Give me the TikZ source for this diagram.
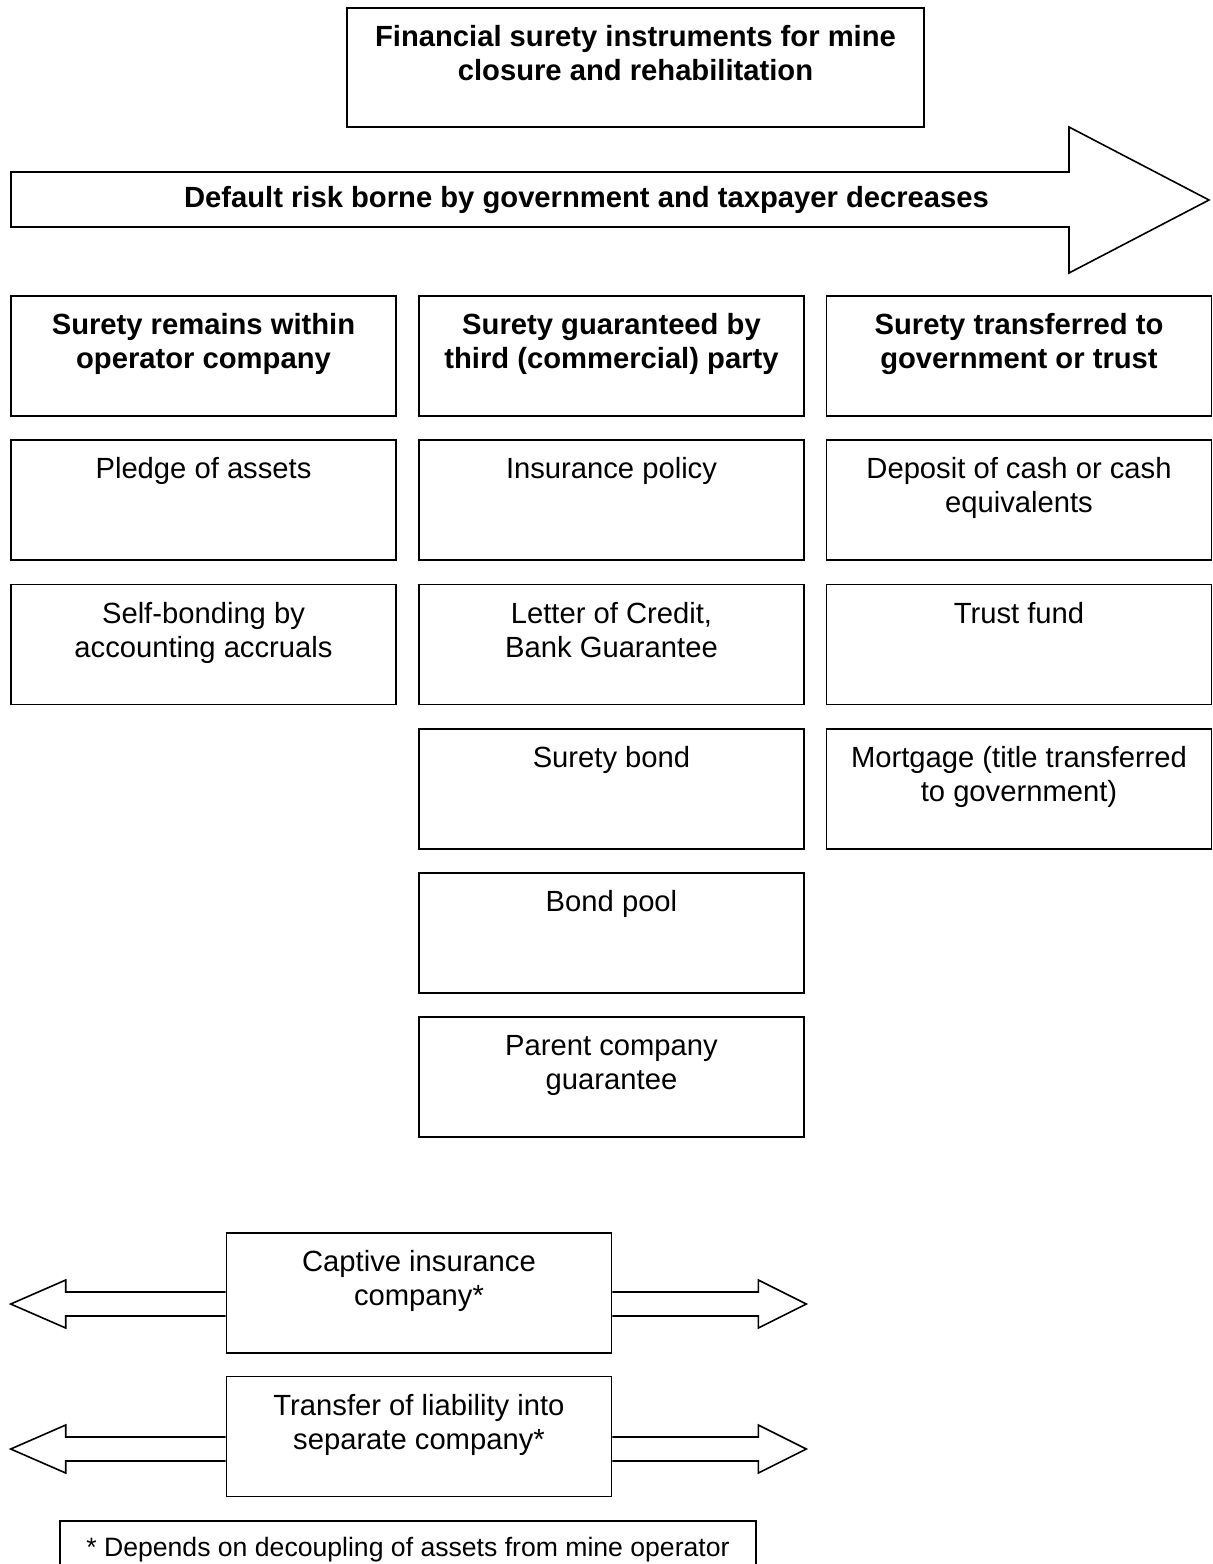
\documentclass[tikz,border=0pt]{standalone}
\usepackage{fontspec}
\setmainfont{Liberation Sans}
\newcommand{\celltxt}[3]{\parbox[c][#2][t]{#1}{\centering\rule{0pt}{19.25pt}#3}}
\newcommand{\colbox}[1]{\celltxt{192.5pt}{60pt}{#1}}
\begin{document}
\begin{tikzpicture}[x=.5pt, y=-.5pt, line width=.8pt, font=\fontsize{14.6}{17}\selectfont,
  cell/.style={draw, inner sep=0pt}]
\useasboundingbox (0,0) rectangle (1212,1564);
\node[cell] (title) at (635.5,67.5) {\celltxt{288.5pt}{59.5pt}{\bfseries Financial surety instruments for mine\\closure and rehabilitation}};
\draw (11,172)--(1069,172)--(1069,127)--(1209,200)--(1069,273)--(1069,227)--(11,227)--cycle;
\node[anchor=base, font=\fontsize{14.6}{17}\selectfont\bfseries] (risk) at (586.5,207) {Default risk borne by government and taxpayer decreases};
\node[cell] (hdrA) at (203.5,356) {\colbox{\bfseries Surety remains within\\operator company}};
\node[cell] (hdrB) at (611.5,356) {\colbox{\bfseries Surety guaranteed by\\third (commercial) party}};
\node[cell] (hdrC) at (1019,356) {\colbox{\bfseries Surety transferred to\\government or trust}};
\node[cell] (pledge) at (203.5,500) {\colbox{Pledge of assets}};
\node[cell] (selfbond) at (203.5,644.5) {\colbox{Self-bonding by\\accounting accruals}};
\node[cell] (insur) at (611.5,500) {\colbox{Insurance policy}};
\node[cell] (credit) at (611.5,644.5) {\colbox{Letter of Credit,\\Bank Guarantee}};
\node[cell] (bond) at (611.5,789) {\colbox{Surety bond}};
\node[cell] (pool) at (611.5,933) {\colbox{Bond pool}};
\node[cell] (parent) at (611.5,1077) {\colbox{Parent company\\guarantee}};
\node[cell] (deposit) at (1019,500) {\colbox{Deposit of cash or cash\\equivalents}};
\node[cell] (trust) at (1019,644.5) {\colbox{Trust fund}};
\node[cell] (mortgage) at (1019,789) {\colbox{Mortgage (title transferred\\to government)}};
\node[cell] (captive) at (419,1293) {\colbox{Captive insurance\\company*}};
\node[cell] (transfer) at (419,1436.5) {\colbox{Transfer of liability into\\separate company*}};
\draw (captive.west) ++(0,-1)--++(-160,0)--++(0,-12)--++(-55,24)--++(55,24)--++(0,-12)--++(160,0);
\draw (captive.east) ++(0,-1)--++(146,0)--++(0,-12)--++(48,24)--++(-48,24)--++(0,-12)--++(-146,0);
\draw (transfer.west) ++(0,.5)--++(-160,0)--++(0,-12)--++(-55,24)--++(55,24)--++(0,-12)--++(160,0);
\draw (transfer.east) ++(0,.5)--++(146,0)--++(0,-12)--++(48,24)--++(-48,24)--++(0,-12)--++(-146,0);
\node[cell, font=\fontsize{13.3}{15.5}\selectfont] (note) at (408,1581) {\parbox[c][60pt][t]{348pt}{\centering\rule{0pt}{17.5pt}* Depends on decoupling of assets from mine operator}};
\end{tikzpicture}
\end{document}
